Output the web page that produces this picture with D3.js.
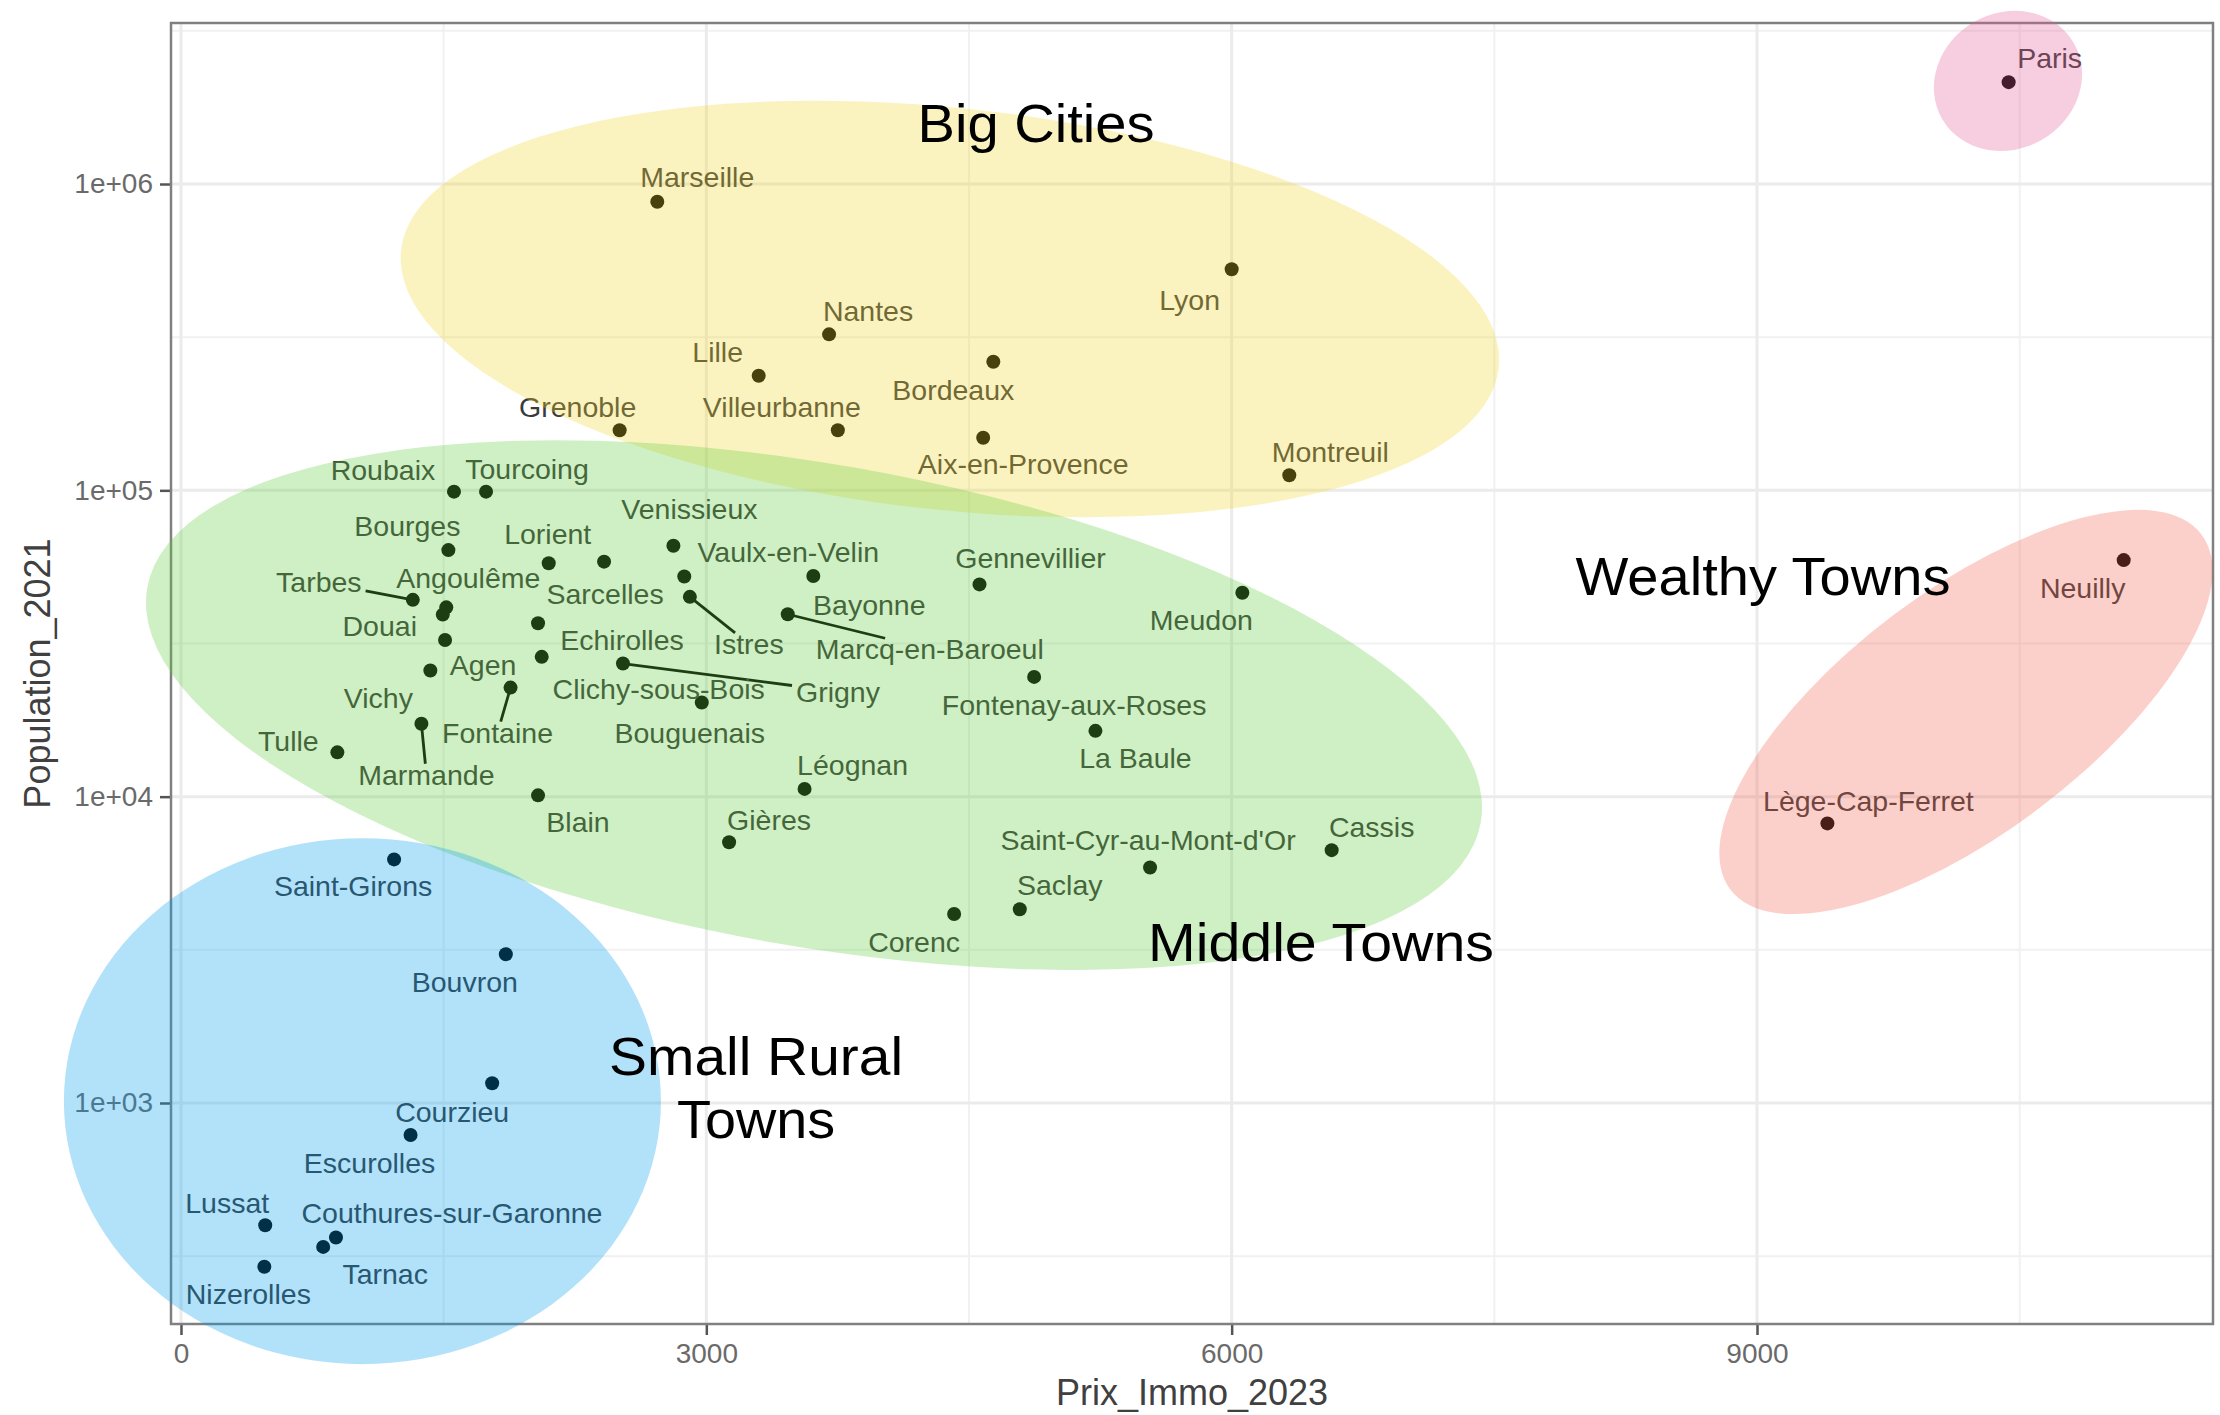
<!DOCTYPE html>
<html><head><meta charset="utf-8">
<script src="https://cdn.jsdelivr.net/npm/d3@7"></script>
<style>
body{margin:0;background:#fff}
svg text{font-family:"Liberation Sans",Arial,Helvetica,sans-serif}
</style>
</head><body>
<svg id="chart" width="2220" height="1415"></svg>
<script>
// ---------- DATA ----------
const cities = ["Marseille","Lyon","Nantes","Lille","Bordeaux","Villeurbanne","Grenoble","Aix-en-Provence","Montreuil",
  "Paris","Neuilly","Lège-Cap-Ferret",
  "Roubaix","Tourcoing","Bourges","Lorient","Sarcelles","Venissieux","Vaulx-en-Velin","Istres","Bayonne","Marcq-en-Baroeul",
  "Gennevillier","Meudon","Tarbes","Angoulême","Douai","Agen","Echirolles","Clichy-sous-Bois","Grigny","Bouguenais","Vichy",
  "Fontaine","Marmande","Tulle","Blain","Fontenay-aux-Roses","La Baule","Léognan","Gières","Saint-Cyr-au-Mont-d'Or","Cassis",
  "Saclay","Corenc",
  "Saint-Girons","Bouvron","Courzieu","Escurolles","Lussat","Couthures-sur-Garonne","Tarnac","Nizerolles"];
const prixImmo2023 = [2720,6000,3701,3299,4639,3751,2505,4581,6329,
  10437,11094,9402,
  1559,1742,1527,2100,2416,2812,2874,2906,3611,3465,
  4560,6061,1324,1515,1495,1508,2039,2060,2524,2974,1424,
  1882,1373,893,2039,4872,5222,3561,3130,5534,6571,
  4790,4415,
  1217,1855,1777,1311,481,885,812,476];
const population2021 = [875000,527000,323000,236600,263000,157000,157000,148500,112000,
  2150000,59200,8180,
  99000,99000,63800,57800,58500,65900,52300,44900,52500,39400,
  49300,46300,43900,41500,39300,32450,36800,28600,27200,20300,25800,
  22700,17300,13950,10100,24600,16400,10600,7100,5870,6690,
  4290,4140,
  6240,3060,1160,786,399,364,339,292];

const xTickValues = [0,3000,6000,9000];
const xMinorValues = [1500,4500,7500,10500];
const yTickValues = [1e3,1e4,1e5,1e6];
const yTickLabels = ["1e+03","1e+04","1e+05","1e+06"];
const yMinorValues = [Math.pow(10,2.5),Math.pow(10,3.5),Math.pow(10,4.5),Math.pow(10,5.5),Math.pow(10,6.5)];

// cluster annotations (data coordinates of ellipse centres and text anchors)
const clusterNames = ["Big Cities","Middle Towns","Small Rural Towns","Paris","Wealthy Towns"];
const clusterCenterX = [4391,3615,1036,10433,10193];
const clusterCenterY = [390800,19900,1014,2170000,18900];
const clusterTextLines = [["Big Cities"],["Middle Towns"],["Small Rural","Towns"],[],["Wealthy Towns"]];
const clusterTextX = [4883,6510,3284,null,9034];
const clusterTextY = [1370000,2906,1234,null,45500];

// ---------- LAYOUT / STYLE ----------
const panel = {left:171, top:23, right:2213, bottom:1324};
const ellipseStyle = [
  {rx:552, ry:201, rot:6.1,  color:"rgb(242,215,42)"},
  {rx:677, ry:241, rot:10,   color:"rgb(95,205,62)"},
  {rx:298.5, ry:263, rot:0,  color:"rgb(0,155,239)"},
  {rx:76,  ry:68,  rot:-30,  color:"rgb(228,88,152)"},
  {rx:295, ry:121, rot:-37,  color:"rgb(245,98,78)"}
];
const annotationWidths = {"Big Cities":237,"Middle Towns":346,"Small Rural":294,"Towns":158,"Wealthy Towns":375};
const labelOffsets = {
  "Marseille":[40,-25],"Lyon":[-42,31],"Nantes":[39,-23],"Lille":[-41,-24],"Bordeaux":[-40,28],
  "Villeurbanne":[-56,-23],"Grenoble":[-42,-23],"Aix-en-Provence":[40,26],"Montreuil":[41,-23],
  "Paris":[41,-24],"Neuilly":[-41,28],"Lège-Cap-Ferret":[41,-22],
  "Roubaix":[-71,-22],"Tourcoing":[41,-23],"Bourges":[-41,-24],"Lorient":[-1,-29],"Sarcelles":[1,32],
  "Venissieux":[16,-37],"Vaulx-en-Velin":[104,-25],"Istres":[59,47],"Bayonne":[56,29],"Marcq-en-Baroeul":[142,35],
  "Gennevillier":[51,-26],"Meudon":[-41,27],"Tarbes":[-94,-18],"Angoulême":[22,-29],"Douai":[-63,11],
  "Agen":[38,25],"Echirolles":[84,17],"Clichy-sous-Bois":[117,32],"Grigny":[215,28],"Bouguenais":[-12,31],
  "Vichy":[-52,27],"Fontaine":[-13,45],"Marmande":[5,51],"Tulle":[-49,-11],"Blain":[40,27],
  "Fontenay-aux-Roses":[40,28],"La Baule":[40,27],"Léognan":[48,-24],"Gières":[40,-22],
  "Saint-Cyr-au-Mont-d'Or":[-2,-28],"Cassis":[40,-23],"Saclay":[40,-24],"Corenc":[-40,28],
  "Saint-Girons":[-41,27],"Bouvron":[-41,28],"Courzieu":[-40,29],"Escurolles":[-41,28],"Lussat":[-38,-22],
  "Couthures-sur-Garonne":[116,-24],"Tarnac":[62,27],"Nizerolles":[-16,27]
};
const leaderLabels = new Set(["Tarbes","Istres","Marcq-en-Baroeul","Grigny","Fontaine","Marmande"]);

// ---------- SCALES ----------
const x = d3.scaleLinear().domain([-57, 11604]).range([panel.left, panel.right]);
const y = d3.scaleLog().domain([Math.pow(10,2.2785), Math.pow(10,6.5256)]).range([panel.bottom, panel.top]);

const svg = d3.select("#chart");
svg.append("rect").attr("width",2220).attr("height",1415).attr("fill","#fff");

// grid
const grid = svg.append("g");
grid.selectAll(".xminor").data(xMinorValues).join("line")
  .attr("x1",d=>x(d)).attr("x2",d=>x(d)).attr("y1",panel.top).attr("y2",panel.bottom)
  .attr("stroke","#f1f1f1").attr("stroke-width",2);
grid.selectAll(".yminor").data(yMinorValues).join("line")
  .attr("y1",d=>y(d)).attr("y2",d=>y(d)).attr("x1",panel.left).attr("x2",panel.right)
  .attr("stroke","#f1f1f1").attr("stroke-width",2);
grid.selectAll(".xmajor").data(xTickValues).join("line")
  .attr("x1",d=>x(d)).attr("x2",d=>x(d)).attr("y1",panel.top).attr("y2",panel.bottom)
  .attr("stroke","#ebebeb").attr("stroke-width",3);
grid.selectAll(".ymajor").data(yTickValues).join("line")
  .attr("y1",d=>y(d)).attr("y2",d=>y(d)).attr("x1",panel.left).attr("x2",panel.right)
  .attr("stroke","#ebebeb").attr("stroke-width",3);

// axes
const xAxis = svg.append("g").attr("transform",`translate(0,${panel.bottom})`)
  .call(d3.axisBottom(x).tickValues(xTickValues).tickFormat(d3.format("d")).tickSize(11).tickPadding(8));
const yAxis = svg.append("g").attr("transform",`translate(${panel.left},0)`)
  .call(d3.axisLeft(y).tickValues(yTickValues).tickFormat((d,i)=>yTickLabels[i]).tickSize(11).tickPadding(7));
[xAxis,yAxis].forEach(a=>{
  a.select(".domain").remove();
  a.selectAll(".tick line").attr("stroke","#555").attr("stroke-width",2.5);
  a.selectAll(".tick text").attr("fill","#6a6a6a").attr("font-size",28)
    .attr("font-family","'Liberation Sans',Arial,sans-serif");
});

// panel border
svg.append("rect").attr("x",panel.left).attr("y",panel.top)
  .attr("width",panel.right-panel.left).attr("height",panel.bottom-panel.top)
  .attr("fill","none").attr("stroke","#808080").attr("stroke-width",2.5);

// axis titles
svg.append("text").attr("x",(panel.left+panel.right)/2).attr("y",1405)
  .attr("text-anchor","middle").attr("font-size",36).attr("fill","#404040").text("Prix_Immo_2023");
svg.append("text").attr("transform",`translate(50,${(panel.top+panel.bottom)/2}) rotate(-90)`)
  .attr("text-anchor","middle").attr("font-size",36).attr("fill","#404040").text("Population_2021");

// data rows
const rows = cities.map((c,i)=>({name:c, px:prixImmo2023[i], pop:population2021[i]}));

const segG = svg.append("g");
const ptG = svg.append("g");
const lblG = svg.append("g");

const labels = lblG.selectAll("text").data(rows).join("text")
  .attr("x",d=>x(d.px)+labelOffsets[d.name][0])
  .attr("y",d=>y(d.pop)+labelOffsets[d.name][1])
  .attr("dy","0.35em")
  .attr("text-anchor","middle").attr("font-size",28.5).attr("fill","#3a3a3a")
  .text(d=>d.name);

labels.each(function(d){
  if(!leaderLabels.has(d.name)) return;
  const bb = this.getBBox();
  const cx = bb.x+bb.width/2, cy = y(d.pop)+labelOffsets[d.name][1];
  const hw = bb.width/2+4, hh = 11;
  const px = x(d.px), py = y(d.pop);
  const dx = px-cx, dy = py-cy;
  const t = Math.min(Math.abs(dx)>0?hw/Math.abs(dx):Infinity, Math.abs(dy)>0?hh/Math.abs(dy):Infinity);
  segG.append("line").attr("x1",px).attr("y1",py)
    .attr("x2",cx+dx*t).attr("y2",cy+dy*t)
    .attr("stroke","#000").attr("stroke-width",2.8);
});

ptG.selectAll("circle").data(rows).join("circle")
  .attr("cx",d=>x(d.px)).attr("cy",d=>y(d.pop)).attr("r",7).attr("fill","#000");

// cluster ellipses (semi-transparent overlays)
const ellG = svg.append("g");
clusterNames.forEach((n,i)=>{
  const s = ellipseStyle[i];
  const cx = x(clusterCenterX[i]), cy = y(clusterCenterY[i]);
  ellG.append("ellipse").attr("cx",0).attr("cy",0).attr("rx",s.rx).attr("ry",s.ry)
    .attr("transform",`translate(${cx},${cy}) rotate(${s.rot})`)
    .attr("fill",s.color).attr("fill-opacity",0.3);
});

// cluster annotations
const annG = svg.append("g");
clusterNames.forEach((n,i)=>{
  const lines = clusterTextLines[i];
  if(!lines.length) return;
  lines.forEach((ln,j)=>{
    annG.append("text").attr("x",x(clusterTextX[i])).attr("y",y(clusterTextY[i])+j*63)
      .attr("text-anchor","middle").attr("font-size",53).attr("font-weight",300)
      .attr("textLength",annotationWidths[ln]).attr("lengthAdjust","spacingAndGlyphs")
      .attr("font-family","Roboto,'Open Sans',Lato,sans-serif").attr("fill","#000").text(ln);
  });
});
</script>
</body></html>
